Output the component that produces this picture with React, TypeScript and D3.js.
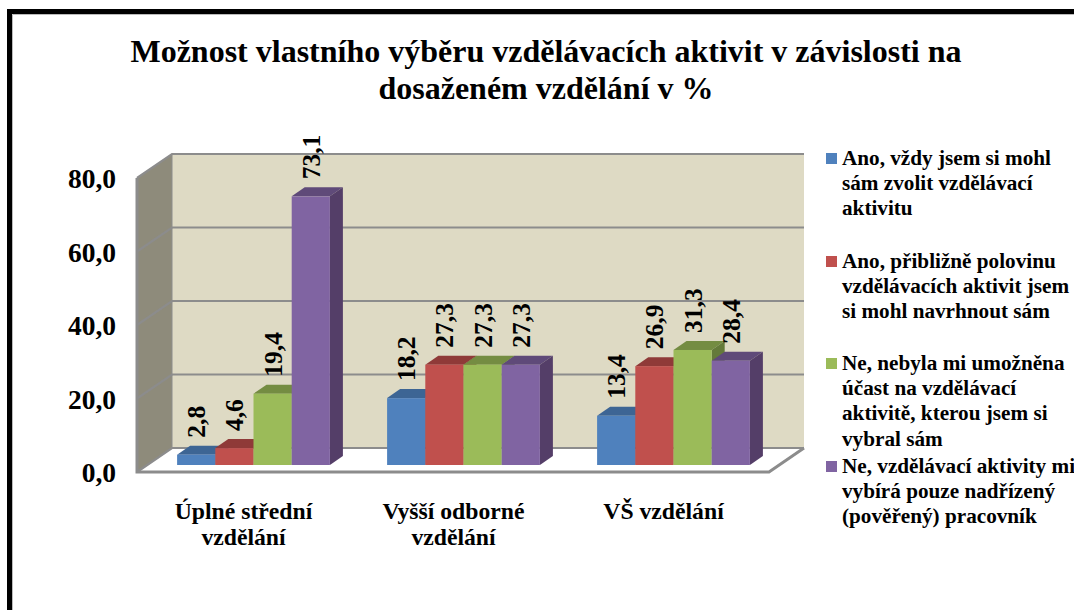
import React from "react";
import * as d3 from "d3";

const titleLines = ["Možnost vlastního výběru vzdělávacích aktivit v závislosti na", "dosaženém vzdělání v %"];
const categories = ["Úplné střední|vzdělání", "Vyšší odborné|vzdělání", "VŠ vzdělání"];
const seriesNames = ["s1", "s2", "s3", "s4"];
const colors = ["#4f81bd", "#c0504d", "#9bbb59", "#8064a2"];
const topColors = ["#3d6594", "#8f3a38", "#748c42", "#5f4a79"];
const sideColors = ["#335580", "#7a3230", "#647a3a", "#543e68"];
const s1 = [2.8, 18.2, 13.4];
const s2 = [4.6, 27.3, 26.9];
const s3 = [19.4, 27.3, 31.3];
const s4 = [73.1, 27.3, 28.4];
const allSeries = [s1, s2, s3, s4];
const yTicks = [0, 20, 40, 60, 80];
const legendEntries = [
  ["Ano, vždy jsem si mohl", "sám zvolit vzdělávací", "aktivitu"],
  ["Ano, přibližně polovinu", "vzdělávacích aktivit jsem", "si mohl navrhnout sám"],
  ["Ne, nebyla mi umožněna", "účast na vzdělávací", "aktivitě, kterou jsem si", "vybral sám"],
  ["Ne, vzdělávací aktivity mi", "vybírá pouze nadřízený", "(pověřený) pracovník"],
];
const legendY = [153, 256, 358, 461];

const FONT = "'Liberation Serif', 'Times New Roman', serif";
const fmt = (v: number) => v.toFixed(1).replace(".", ",");

export default function App() {
  const y = d3.scaleLinear().domain([0, 80]).range([472, 178]);
  const dY = 465 - 472;
  const groupX = d3.scaleBand<number>().domain([0, 1, 2]).range([148.5, 778.5]).paddingInner(0).paddingOuter(0);
  const barW = 38.2;
  const gx = (i: number) => (groupX(i) as number) + (groupX.bandwidth() - 4 * barW) / 2;
  const wallDx = 35;
  const wallDy = -24;
  const barDx = 13;
  const barDy = -9;
  const x0 = 137;
  const x1 = 769;

  return (
    <svg width={1074} height={610} style={{ position: "absolute", left: 0, top: 0, background: "#fff" }} fontFamily={FONT}>
      <path d="M9.5 610V11.5H1074" fill="none" stroke="#000" strokeWidth={5} />
      <path d="M12.5 610V14.5H1074" fill="none" stroke="#bbb" strokeWidth={1} />

      {titleLines.map((t) => (
        <text key={t} x={546} y={62 + titleLines.indexOf(t) * 37} textAnchor="middle" fontWeight="bold" fontSize={32}>{t}</text>
      ))}

      <polygon points={`${x0 + wallDx},${y(80) + wallDy} ${x1 + wallDx},${y(80) + wallDy} ${x1 + wallDx},${y(0) + wallDy} ${x0 + wallDx},${y(0) + wallDy}`} fill="#dedac4" />
      <polygon points={`${x0},${y(80)} ${x0 + wallDx},${y(80) + wallDy} ${x0 + wallDx},${y(0) + wallDy} ${x0},${y(0)}`} fill="#8e8b7b" />
      <polygon points={`${x0},${y(0)} ${x0 + wallDx},${y(0) + wallDy} ${x1 + wallDx},${y(0) + wallDy} ${x1},${y(0)}`} fill="#fff" />
      {yTicks.map((t) => (
        <path key={t} d={`M${x0},${y(t)}L${x0 + wallDx},${y(t) + wallDy}H${x1 + wallDx}`} fill="none" stroke="#8c8c8c" strokeWidth={2.2} />
      ))}
      <path d={`M${x0},${y(80)}V${y(0)}H${x1}L${x1 + wallDx},${y(0) + wallDy}`} fill="none" stroke="#8c8c8c" strokeWidth={3} />
      <line x1={x0 + wallDx} x2={x0 + wallDx} y1={y(80) + wallDy} y2={y(0) + wallDy} stroke="#8c8c8c" strokeWidth={1} />

      {categories.map((_, c) => (
        <g key={c}>
          {seriesNames.map((name, s) => {
            const v = allSeries[s][c];
            const bx = gx(c) + s * barW;
            const top = y(v) + dY;
            const bot = y(0) + dY;
            return (
              <g key={name}>
                <polygon points={`${bx},${top} ${bx + barDx},${top + barDy} ${bx + barW + barDx},${top + barDy} ${bx + barW},${top}`} fill={topColors[s]} />
                <polygon points={`${bx + barW},${top} ${bx + barW + barDx},${top + barDy} ${bx + barW + barDx},${bot + barDy} ${bx + barW},${bot}`} fill={sideColors[s]} />
                <rect x={bx} y={top} width={barW} height={bot - top} fill={colors[s]} />
              </g>
            );
          })}
        </g>
      ))}

      {categories.map((_, c) => seriesNames.map((name, s) => {
        const v = allSeries[s][c];
        const lx = gx(c) + s * barW + barW / 2 + 9;
        const ly = y(v) + dY + barDy - 8;
        return (
          <text key={name + c} transform={`translate(${lx},${ly}) rotate(-90)`} fontWeight="bold" fontSize={25.5}>{fmt(v)}</text>
        );
      }))}

      {yTicks.map((t) => (
        <text key={t} x={116} y={y(t) + 10} textAnchor="end" fontWeight="bold" fontSize={27.5}>{fmt(t)}</text>
      ))}

      {categories.map((c, i) => c.split("|").map((line, j) => (
        <text key={line} x={gx(i) + 2 * barW - 10} y={519 + j * 25.5} textAnchor="middle" fontWeight="bold" fontSize={23.7}>{line}</text>
      )))}

      {legendEntries.map((lines, i) => (
        <g key={i}>
          <rect x={826} y={legendY[i]} width={11} height={11} fill={colors[i]} />
          {lines.map((l, j) => (
            <text key={l} x={842} y={legendY[i] + 12 + j * 25.2} fontWeight="bold" fontSize={21.2}>{l}</text>
          ))}
        </g>
      ))}
    </svg>
  );
}
